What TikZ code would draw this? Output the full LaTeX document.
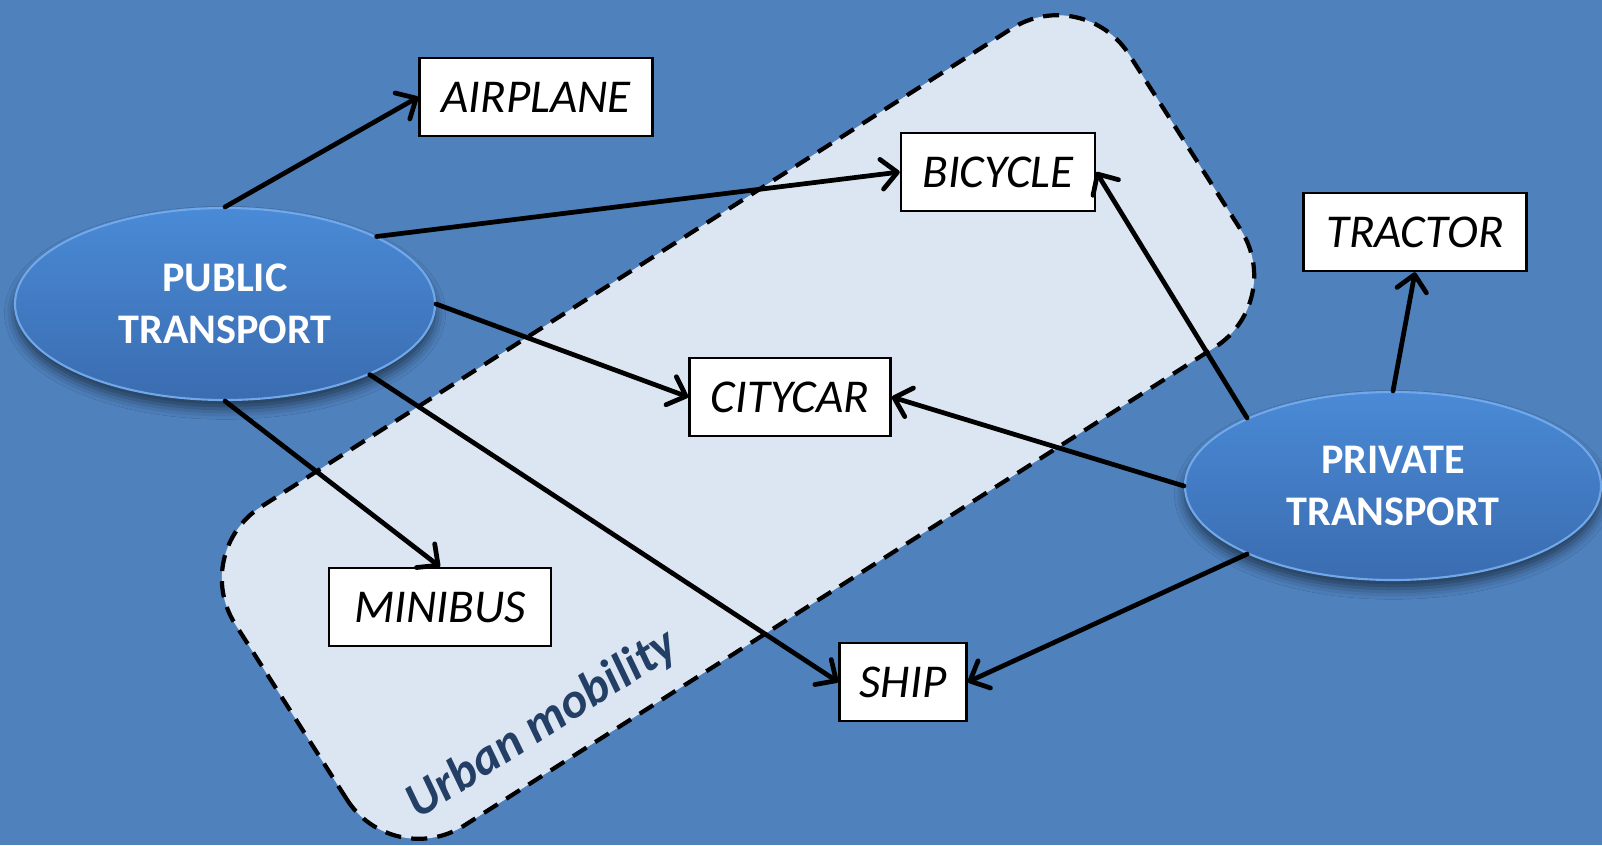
\documentclass[tikz,border=0pt]{standalone}
\usepackage{fontspec}
\setmainfont{Carlito}
\usetikzlibrary{arrows.meta,shadows.blur,shapes.geometric}
\definecolor{bgblue}{HTML}{4F81BD}
\definecolor{zonefill}{HTML}{DCE6F2}
\definecolor{zonetext}{HTML}{243F66}
\definecolor{ovaltop}{HTML}{4A8AD6}
\definecolor{ovalbot}{HTML}{3A6CB0}
\definecolor{ovalrim}{HTML}{70A8EA}
\tikzset{
  mode/.style={draw=black, line width=0.7pt, fill=white, inner sep=0pt,
    minimum height=0.78cm, font=\fontsize{13.4}{15}\selectfont\itshape},
  group/.style={ellipse, top color=ovaltop, bottom color=ovalbot, draw=ovalrim,
    line width=0.6pt, text=white, align=center,
    font=\fontsize{12}{14.8}\selectfont\bfseries,
    blur shadow={shadow xshift=0pt, shadow yshift=-2.5pt,
      shadow blur radius=3pt, shadow opacity=55}},
  link/.style={line width=1.35pt, line cap=round,
    -{Straight Barb[length=4.5pt, width=8.5pt, round]}},
  zone/.style={draw=black, fill=zonefill, line width=1.2pt,
    dash pattern=on 4.6pt off 2.9pt, rounded corners=0.85cm}
}
\begin{document}
\begin{tikzpicture}
  % canvas
  \fill[bgblue] (0,0) rectangle (16.02,-8.45);
  \useasboundingbox (0,0) rectangle (16.02,-8.45);

  % urban mobility zone
  \begin{scope}[shift={(7.38,-4.27)}, rotate=32.5]
    \path[zone] (-5.3,-1.89) rectangle (5.3,1.89);
  \end{scope}
  \node (zonelabel) [rotate=32.5, text=zonetext,
    font=\fontsize{14.2}{16}\selectfont\bfseries\itshape] at (5.42,-7.25) {Urban mobility};

  % transport modes
  \node[mode, minimum width=2.33cm] (air)  at (5.36,-0.97) {AIRPLANE};
  \node[mode, minimum width=1.94cm] (bic)  at (9.98,-1.72) {BICYCLE};
  \node[mode, minimum width=2.23cm] (trac) at (14.15,-2.32) {TRACTOR};
  \node[mode, minimum width=2.01cm] (city) at (7.90,-3.97) {CITYCAR};
  \node[mode, minimum width=2.22cm] (mini) at (4.40,-6.07) {MINIBUS};
  \node[mode, minimum width=1.27cm] (ship) at (9.03,-6.82) {SHIP};

  % transport groups
  \node[group, minimum width=4.20cm, minimum height=1.92cm] (pub)  at (2.25,-3.04) {PUBLIC\\TRANSPORT};
  \node[group, minimum width=4.16cm, minimum height=1.88cm] (priv) at (13.93,-4.86) {PRIVATE\\TRANSPORT};

  % links
  \draw[link] (pub.north) -- (air.west);
  \draw[link] (pub.24) -- (bic.west);
  \draw[link] (pub.east) -- (city.west);
  \draw[link] (pub.-26) -- (ship.west);
  \draw[link] (pub.south) -- (mini.north);
  \draw[link] (priv.155) -- (bic.east);
  \draw[link] (priv.west) -- (city.east);
  \draw[link] (priv.north) -- (trac.south);
  \draw[link] (priv.205) -- (ship.east);
\end{tikzpicture}
\end{document}
